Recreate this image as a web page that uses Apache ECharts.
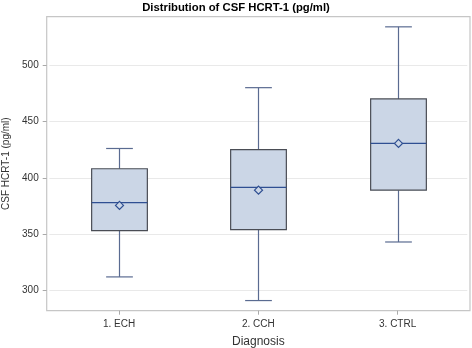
<!DOCTYPE html>
<html><head><meta charset="utf-8">
<script src="https://cdn.jsdelivr.net/npm/echarts@6/dist/echarts.min.js"></script>
<style>html,body{margin:0;padding:0;background:#fff}#c{width:472px;height:348px}</style>
</head><body><div id="c"></div>
<script>
const categories = ['1. ECH', '2. CCH', '3. CTRL'];
const minVals    = [312, 291, 343];
const q1Vals     = [353, 354, 389];
const medianVals = [378, 391.5, 430.5];
const q3Vals     = [408, 425, 470];
const maxVals    = [426, 480, 534];
const meanVals   = [375.5, 389, 430.5];
const yTicks     = [300, 350, 400, 450, 500];

const FONT = '"Liberation Sans", Arial, sans-serif';
const data = categories.map((c, i) => [i, minVals[i], q1Vals[i], medianVals[i], q3Vals[i], maxVals[i], meanVals[i]]);

function renderItem(params, api) {
  const x = api.value(0);
  const band = api.size([1, 0])[0];
  const bw = band * 0.4;
  const cw = bw * 0.48;
  const pMin = api.coord([x, api.value(1)]);
  const pQ1 = api.coord([x, api.value(2)]);
  const pMed = api.coord([x, api.value(3)]);
  const pQ3 = api.coord([x, api.value(4)]);
  const pMax = api.coord([x, api.value(5)]);
  const pMean = api.coord([x, api.value(6)]);
  const cx = Math.round(pMed[0]) + 0.5;
  const wStyle = {stroke: '#5a6b91', lineWidth: 1.2};
  const d = 4;
  return {
    type: 'group',
    children: [
      {type: 'line', shape: {x1: cx, y1: pQ3[1], x2: cx, y2: pMax[1]}, style: wStyle},
      {type: 'line', shape: {x1: cx, y1: pQ1[1], x2: cx, y2: pMin[1]}, style: wStyle},
      {type: 'line', shape: {x1: cx - cw / 2, y1: pMax[1], x2: cx + cw / 2, y2: pMax[1]}, style: wStyle},
      {type: 'line', shape: {x1: cx - cw / 2, y1: pMin[1], x2: cx + cw / 2, y2: pMin[1]}, style: wStyle},
      {type: 'rect', shape: {x: cx - bw / 2, y: pQ3[1], width: bw, height: pQ1[1] - pQ3[1]},
        style: {fill: '#cbd6e6', stroke: '#4a4d55', lineWidth: 1.2}},
      {type: 'line', shape: {x1: cx - bw / 2, y1: pMed[1], x2: cx + bw / 2, y2: pMed[1]},
        style: {stroke: '#2f4f92', lineWidth: 1.3}},
      {type: 'polygon', shape: {points: [[cx, pMean[1] - d], [cx + d, pMean[1]], [cx, pMean[1] + d], [cx - d, pMean[1]]]},
        style: {fill: '#cbd6e6', stroke: '#2f4f92', lineWidth: 1.2}}
    ]
  };
}

const chart = echarts.init(document.getElementById('c'), null, {renderer: 'canvas'});
chart.setOption({
  animation: false,
  backgroundColor: '#fff',
  title: {
    text: 'Distribution of CSF HCRT-1 (pg/ml)', left: 'center', top: -3,
    textStyle: {fontFamily: FONT, fontSize: 11.3, fontWeight: 'bold', color: '#000'}
  },
  grid: {left: 49.4, right: 4.7, top: 16.7, bottom: 37.3, containLabel: false, outerBoundsMode: 'none'},
  graphic: [{
    type: 'rect', z: 0, silent: true,
    shape: {x: 46.7, y: 16.7, width: 423.3, height: 294},
    style: {fill: 'none', stroke: '#c6c6c6', lineWidth: 1.2}
  }],
  xAxis: {
    type: 'category', data: categories,
    name: 'Diagnosis', nameLocation: 'middle', nameGap: 25,
    nameTextStyle: {fontFamily: FONT, fontSize: 12, color: '#333'},
    axisLine: {show: false},
    axisTick: {show: true, alignWithLabel: true, length: 4, lineStyle: {color: '#aaa'}},
    axisLabel: {fontFamily: FONT, fontSize: 10, color: '#333', margin: 9},
    splitLine: {show: false}
  },
  yAxis: {
    type: 'value', min: 282, max: 543, offset: 2.7,
    name: 'CSF HCRT-1 (pg/ml)', nameLocation: 'middle', nameGap: 23,
    nameTextStyle: {fontFamily: FONT, fontSize: 10, color: '#333'},
    axisLine: {show: false},
    axisTick: {show: true, length: 4, customValues: yTicks, lineStyle: {color: '#aaa'}},
    axisLabel: {fontFamily: FONT, fontSize: 10, color: '#333', margin: 8, customValues: yTicks},
    splitLine: {show: true, lineStyle: {color: '#e9e9e9', width: 1}}
  },
  series: [{
    type: 'custom', renderItem: renderItem, data: data,
    encode: {x: 0, y: [1, 2, 3, 4, 5, 6]}, z: 5
  }]
});
</script></body></html>
